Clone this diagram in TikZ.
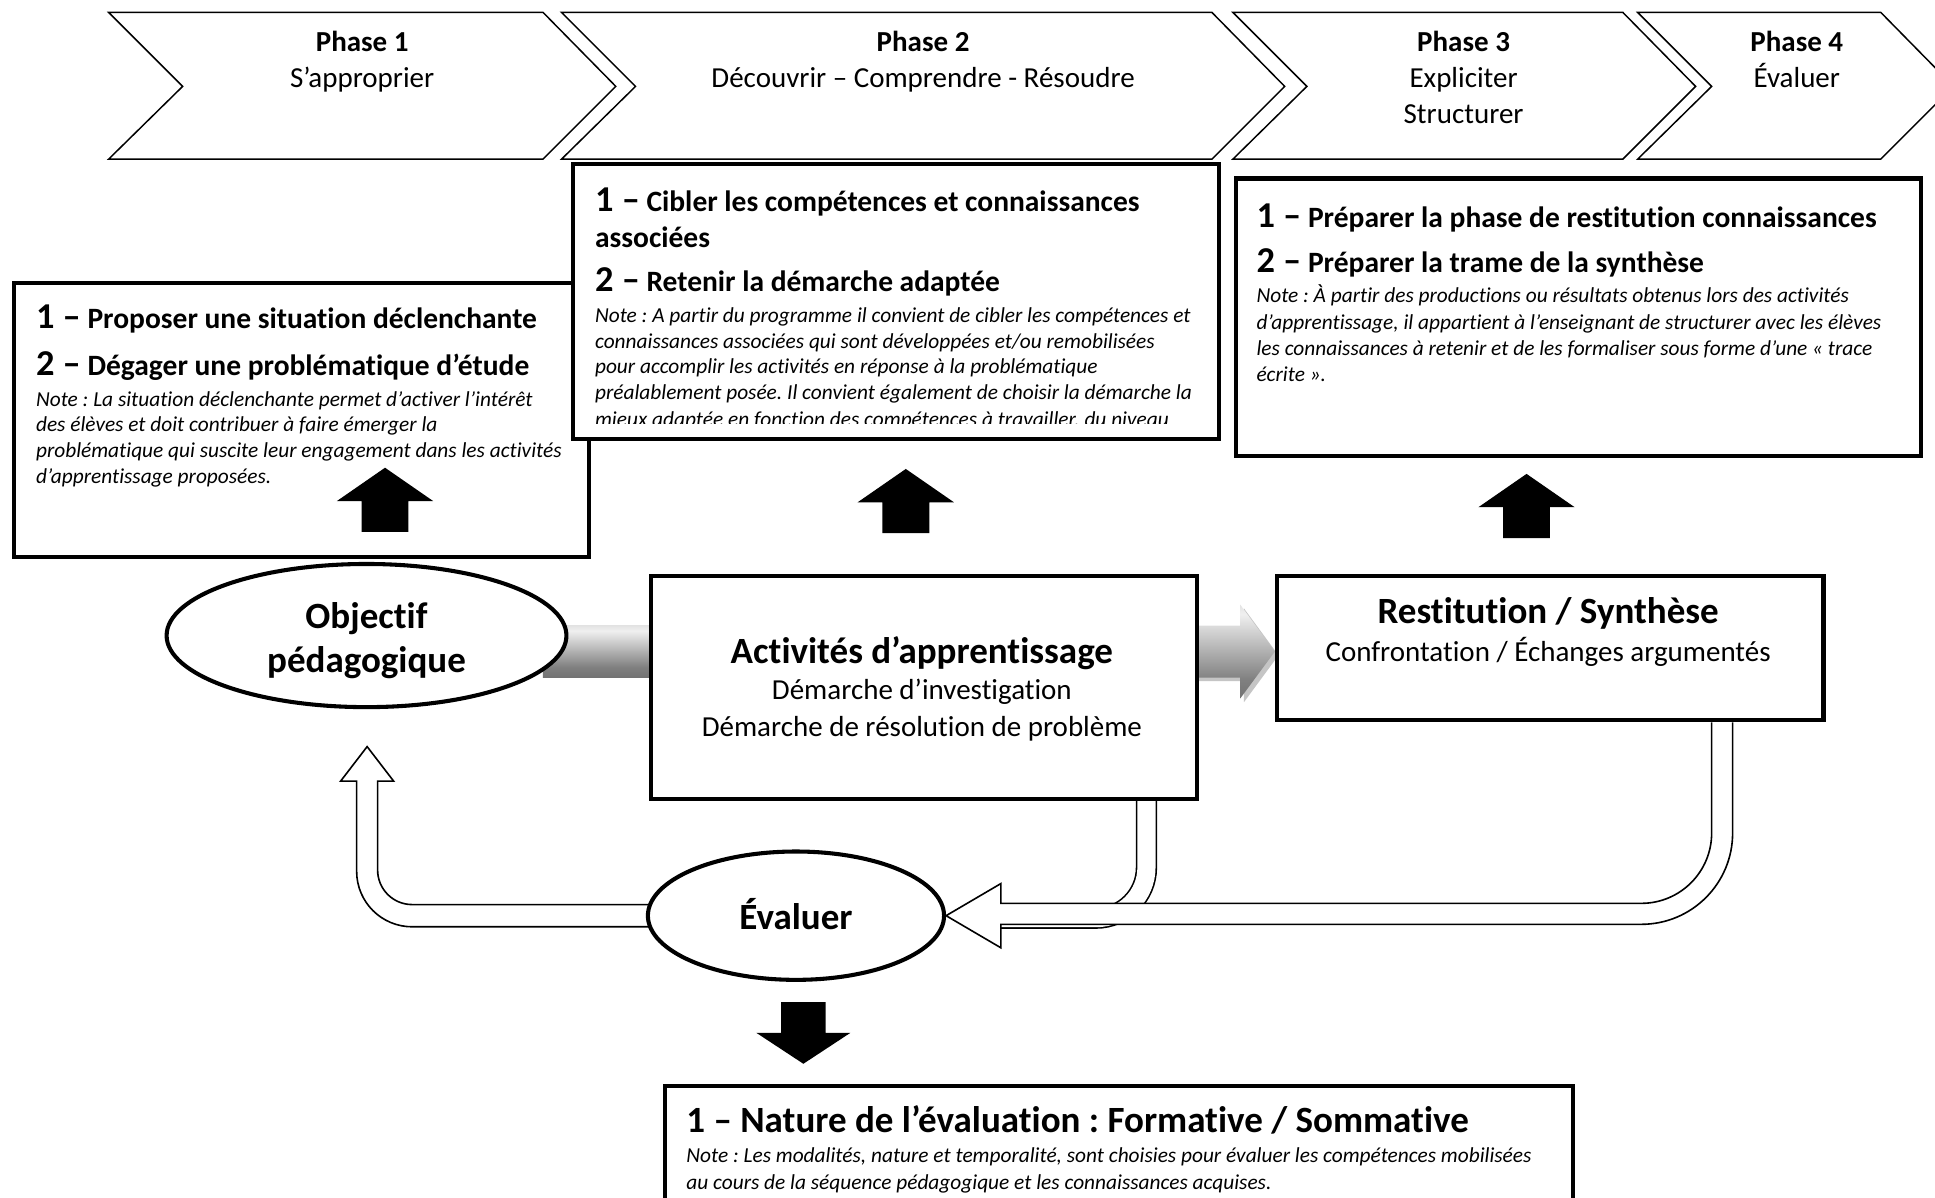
\documentclass[tikz,border=0pt]{standalone}
\usepackage{fontspec}
\setmainfont{Carlito}[Ligatures=NoCommon]
\usetikzlibrary{shapes.geometric,calc,shadows}
\pgfdeclarelayer{back}
\pgfdeclarelayer{bg}
\pgfsetlayers{back,bg,main}
\pgfdeclareverticalshading{metal}{100bp}{color(0bp)=(black!68); color(35bp)=(black!50); color(70bp)=(black!6); color(100bp)=(black!35)}
\newcommand\szHead{\fontsize{23.9}{28}\selectfont\bfseries}
\newcommand\szNum{\fontsize{29.5}{32}\selectfont\bfseries}
\newcommand\szNote{\fontsize{17.3}{20}\selectfont\itshape}
\newcommand\szPh{\fontsize{23.5}{28}\selectfont}
\newcommand\szPhB{\fontsize{23.5}{28}\selectfont\bfseries}
\newcommand\szBig{\fontsize{30}{34}\selectfont\bfseries}
\frenchspacing
\begin{document}
\frenchspacing
\begin{tikzpicture}[x=1pt,y=-1pt,
  chev/.style={draw, line width=1.2pt, fill=white, line join=miter},
  tbox/.style={draw, line width=3.3pt, fill=white, inner sep=0pt, anchor=north west},
  txt/.style={inner sep=0pt, anchor=base west},
  ctxt/.style={inner sep=0pt, anchor=base},
  hollow/.style={draw, line width=1.3pt, fill=white, line join=miter},
  ell/.style={ellipse, draw, line width=3.3pt, fill=white, inner sep=0pt},
  uparr/.pic={\fill (0,0) -- (39,27) -- (19,27) -- (19,52) -- (-19,52) -- (-19,27) -- (-39,27) -- cycle;},
  downarr/.pic={\fill (0,0) -- (38,-25) -- (18,-25) -- (18,-50) -- (-18,-50) -- (-18,-25) -- (-38,-25) -- cycle;}
]
\begin{pgfonlayer}{back}
\fill[white] (0,0) rectangle (1568,970);
\end{pgfonlayer}
\useasboundingbox (0,0) rectangle (1568,970);

% ---------- chevrons ----------
\draw[chev] (88,10) -- (440,10) -- (499,70) -- (440,129) -- (88,129) -- (148,70) -- cycle;
\draw[chev] (455,10) -- (982,10) -- (1041,70) -- (982,129) -- (455,129) -- (515,70) -- cycle;
\draw[chev] (999,10) -- (1315,10) -- (1374,70) -- (1315,129) -- (999,129) -- (1059,70) -- cycle;
\draw[chev] (1327,10) -- (1524,10) -- (1583,70) -- (1524,129) -- (1327,129) -- (1387,70) -- cycle;

\node[ctxt, font=\szPhB] (ph1) at (293.5,42) {Phase 1};
\node[ctxt, font=\szPh] (ph1a) at (293.5,71) {S’approprier};
\node[ctxt, font=\szPhB] (ph2) at (748,42) {Phase 2};
\node[ctxt, font=\szPh] (ph2a) at (748,71) {Découvrir – Comprendre - Résoudre};
\node[ctxt, font=\szPhB] (ph3) at (1186,42) {Phase 3};
\node[ctxt, font=\szPh] (ph3a) at (1186,71) {Expliciter};
\node[ctxt, font=\szPh] (ph3b) at (1186,100) {Structurer};
\node[ctxt, font=\szPhB] (ph4) at (1456,42) {Phase 4};
\node[ctxt, font=\szPh] (ph4a) at (1456,71) {Évaluer};

% ---------- box A ----------
\node[tbox, minimum width=466pt, minimum height=222pt] (boxA) at (10,228) {};
\node[txt] (a1) at (29,266) {\szNum 1 –\szHead{} Proposer une situation déclenchante};
\node[txt] (a2) at (29,304) {\szNum 2 –\szHead{} Dégager une problématique d’étude};
\node[txt, font=\szNote] (a3) at (29,329) {Note : La situation déclenchante permet d’activer l’intérêt};
\node[txt, font=\szNote] (a4) at (29,350) {des élèves et doit contribuer à faire émerger la};
\node[txt, font=\szNote] (a5) at (29,371) {problématique qui suscite leur engagement dans les activités};
\node[txt, font=\szNote] (a6) at (29,392) {d’apprentissage proposées.};
\pic at (312,379) {uparr};

% ---------- box B ----------
\node[tbox, minimum width=523pt, minimum height=223pt] (boxB) at (463,131) {};
\node[txt] (b1) at (482,171.5) {\szNum 1 –\szHead{} Cibler les compétences et connaissances};
\node[txt, font=\szHead] (b2) at (482,200.5) {associées};
\node[txt] (b3) at (482,236) {\szNum 2 –\szHead{} Retenir la démarche adaptée};
\begin{scope}
\clip (466,134) rectangle (983,343);
\node[txt, font=\szNote] (b4) at (482,261) {Note : A partir du programme il convient de cibler les compétences et};
\node[txt, font=\szNote] (b5) at (482,282) {connaissances associées qui sont développées et/ou remobilisées};
\node[txt, font=\szNote] (b6) at (482,303) {pour accomplir les activités en réponse à la problématique};
\node[txt, font=\szNote] (b7) at (482,324) {préalablement posée. Il convient également de choisir la démarche la};
\node[txt, font=\szNote] (b8) at (482,346) {mieux adaptée en fonction des compétences à travailler, du niveau};
\end{scope}
\pic at (734,380) {uparr};

% ---------- box C ----------
\node[tbox, minimum width=555pt, minimum height=225pt] (boxC) at (1000,143) {};
\node[txt] (c1) at (1018,184) {\szNum 1 –\szHead{} Préparer la phase de restitution connaissances};
\node[txt] (c2) at (1018,221) {\szNum 2 –\szHead{} Préparer la trame de la synthèse};
\node[txt, font=\szNote] (c3) at (1018,245) {Note : À partir des productions ou résultats obtenus lors des activités};
\node[txt, font=\szNote] (c4) at (1018,267) {d’apprentissage, il appartient à l’enseignant de structurer avec les élèves};
\node[txt, font=\szNote] (c5) at (1018,288) {les connaissances à retenir et de les formaliser sous forme d’une « trace};
\node[txt, font=\szNote] (c6) at (1018,309) {écrite ».};
\pic at (1237,384) {uparr};

% ---------- central nodes ----------
\node[ell, minimum width=324pt, minimum height=116pt] (obj) at (297,515) {};
\node[ctxt, font=\szBig] (objT1) at (297,509) {Objectif};
\node[ctxt, font=\szBig] (objT2) at (297,545) {pédagogique};

\node[tbox, minimum width=442pt, minimum height=181pt] (act) at (526,465) {};
\node[ctxt, font=\szBig] (actT1) at (747,538) {Activités d’apprentissage};
\node[ctxt, font=\szPh] (actT2) at (747,567) {Démarche d’investigation};
\node[ctxt, font=\szPh] (actT3) at (747,597) {Démarche de résolution de problème};

\node[tbox, minimum width=443pt, minimum height=117pt] (resti) at (1033,465) {};
\node[ctxt, font=\szBig] (resT1) at (1254.5,505.5) {Restitution / Synthèse};
\node[ctxt, font=\szPh] (resT2) at (1254.5,536) {Confrontation / Échanges argumentés};

\node[ell, minimum width=240pt, minimum height=104pt] (evalu) at (645,742) {};
\node[ctxt, font=\szBig] (evT) at (645,753) {Évaluer};

\pic at (651,862) {downarr};

% ---------- bottom box ----------
\node[tbox, minimum width=736pt, minimum height=140pt] (nat) at (537,878) {};
\node[txt, font=\szBig] (n1) at (556,918) {1 – Nature de l’évaluation : Formative / Sommative};
\node[txt, font=\szNote] (n2) at (556,942) {Note : Les modalités, nature et temporalité, sont choisies pour évaluer les compétences mobilisées};
\node[txt, font=\szNote] (n3) at (556,964) {au cours de la séquence pédagogique et les connaissances acquises.};

% ---------- connectors (behind) ----------
\begin{pgfonlayer}{bg}
\shade[shading=metal] (440,507) rectangle (535,549);
\fill[black!45, opacity=0.5] (962,510) -- (1008,510) -- (1008,493) -- (1036,531) -- (1008,569) -- (1008,552) -- (962,552) -- cycle;
\shade[shading=metal] (960,507) -- (1005,507) -- (1005,490) -- (resti.west |- 0,528) -- (1005,566) -- (1005,549) -- (960,549) -- cycle;
% pipe from Activites
\draw[line width=1.3pt, double=white, double distance=14.7pt] (929,640) -- (929,703) .. controls (929,725.6) and (910.6,744) .. (888,744) -- (805,744);
% pipe from Evaluer to Objectif
\draw[hollow] (evalu.center |- 0,733) -- (334,733) .. controls (318.5,733) and (306,720.5) .. (306,705) -- (306,633) -- (319,633) -- (297.5,605) -- (276,633) -- (289,633) -- (289,706) .. controls (289,730.9) and (309.1,751) .. (334,751) -- (evalu.center |- 0,751);
% big arrow from Restitution to Evaluer
\draw[hollow] (1387,0 |- resti.south) -- (1387,675) .. controls (1387,706.5) and (1361.5,732) .. (1330,732) -- (811,732) -- (811,716) -- (evalu.east) -- (811,768) -- (811,749) -- (1330,749) .. controls (1370.9,749) and (1404,715.9) .. (1404,675) -- (1404,0 |- resti.south);
\end{pgfonlayer}
\end{tikzpicture}
\end{document}
